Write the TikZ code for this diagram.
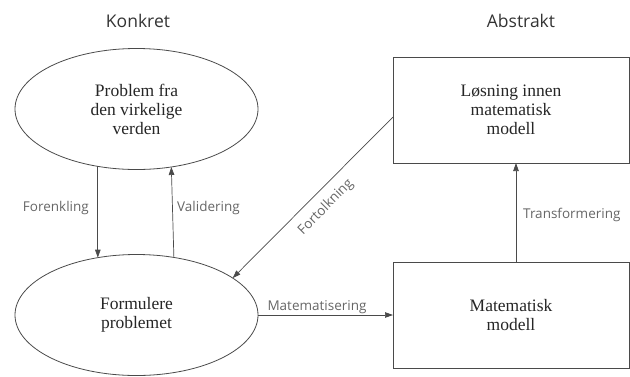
\documentclass[tikz,border=0pt]{standalone}
\usepackage{fontspec}
\setmainfont{Liberation Serif}
\newfontfamily\labfont{Open Sans}
\usetikzlibrary{shapes.geometric,arrows.meta}
\definecolor{linec}{HTML}{4A4A4A}
\definecolor{labc}{HTML}{666666}
\definecolor{headc}{HTML}{333333}
\definecolor{textc}{HTML}{262626}
\tikzset{
  x=1pt,y=-1pt,
  ell/.style={ellipse,draw=linec,line width=0.8pt,minimum width=243pt,minimum height=121pt,inner sep=0pt,outer sep=0pt,align=center,text=textc,font=\fontsize{17.5}{19}\selectfont},
  boxn/.style={rectangle,draw=linec,line width=0.8pt,minimum width=236pt,minimum height=106pt,inner sep=0pt,outer sep=0pt,align=center,text=textc,font=\fontsize{17.5}{19}\selectfont},
  arr/.style={draw=linec,line width=0.7pt,-{Triangle[length=8pt,width=5.5pt]}},
  lab/.style={text=labc,font=\labfont\fontsize{13.5}{15}\selectfont,inner sep=0pt},
  head/.style={text=headc,font=\labfont\fontsize{17.5}{20}\selectfont,inner sep=0pt}
}
\begin{document}
\begin{tikzpicture}
\useasboundingbox (0,0) rectangle (630,376);
\node[head] (konkret) at (138,21) {Konkret};
\node[head] (abstrakt) at (521,21) {Abstrakt};
\node[ell] (top) at (136.5,109) {Problem fra\\den virkelige\\verden};
\node[ell] (bot) at (136.5,315) {Formulere\\problemet};
\node[boxn] (ltop) at (511,110) {Løsning innen\\matematisk\\modell};
\node[boxn] (mbox) at (511,315) {Matematisk\\modell};
\draw[arr] (top.236) -- (bot.124.5);
\draw[arr] (bot.57.9) -- (top.301.7);
\draw[arr] (bot.east) -- (mbox.west);
\draw[arr] ([xshift=5pt]mbox.north) -- ([xshift=5pt]ltop.south);
\draw[arr] ([yshift=-7pt]ltop.west) -- node[lab,sloped,below=9pt,pos=0.49] (fort) {Fortolkning} (bot.21);
\node[lab,anchor=east] (forenk) at (89,208) {Forenkling};
\node[lab,anchor=west] (valid) at (177,208) {Validering};
\node[lab,anchor=base] (matem) at (317,310) {Matematisering};
\node[lab,anchor=west] (transf) at (523,215) {Transformering};
\end{tikzpicture}
\end{document}
